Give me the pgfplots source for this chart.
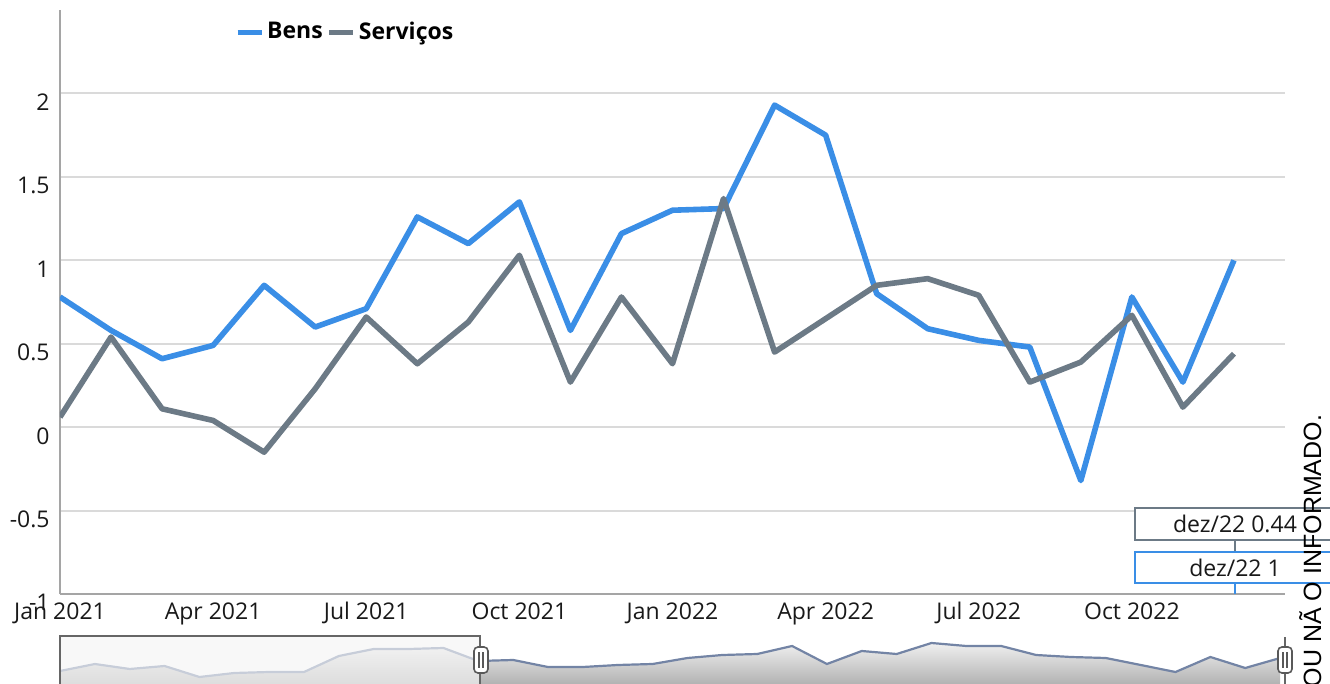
\documentclass[border=0pt]{standalone}
\usepackage{pgfplots}
\pgfplotsset{compat=1.18}
\usepackage{fontspec}
\setmainfont{Open Sans}
\newfontfamily\arialfont{Liberation Sans}
\definecolor{bens}{RGB}{58,142,230}
\definecolor{serv}{RGB}{108,122,134}
\definecolor{gridc}{RGB}{218,218,218}
\definecolor{axisc}{RGB}{165,165,165}
\definecolor{navline}{RGB}{115,132,165}
\newcommand{\lbl}{\fontsize{11.5}{13}\selectfont}

\begin{document}
\begin{tikzpicture}
\path[use as bounding box] (0,0) rectangle (665pt,-342pt);

% main chart
\begin{axis}[
  at={(30pt,-297pt)}, anchor=south west, scale only axis,
  width=612.5pt, height=292pt,
  xmin=0, xmax=24, ymin=-1, ymax=2.5,
  axis x line*=bottom, axis y line*=left,
  axis line style={-, draw=axisc, line width=1pt},
  xtick={0,3,6,9,12,15,18,21},
  xticklabels={Jan 2021,Apr 2021,Jul 2021,Oct 2021,Jan 2022,Apr 2022,Jul 2022,Oct 2022},
  ytick={-1,-0.5,0,0.5,1,1.5,2},
  yticklabels={\raisebox{3pt}{-1},-0.5,0,0.5,1,1.5,2},
  major tick length=0pt, tick style={draw=none},
  ymajorgrids, grid style={gridc, line width=1pt},
  xticklabel style={anchor=north, inner sep=0pt, yshift=-4pt, font=\lbl, text=black!90},
  yticklabel style={anchor=north east, inner sep=0pt, xshift=-5pt, font=\lbl, text=black!90},
  legend style={at={(0.1425,0.962)}, anchor=west, draw=none, fill=none,
    inner sep=0pt, font=\lbl\bfseries, legend columns=-1,
    nodes={inner sep=1.5pt},
    /tikz/every even column/.append style={column sep=0.5pt}},
  legend cell align=left,
  legend image code/.code={\draw[#1, line width=2.6pt] (0pt,0pt) -- (12pt,0pt);},
]
\addplot[bens, line width=2.8pt, line join=round] coordinates {
 (0,0.78) (1,0.58) (2,0.41) (3,0.49) (4,0.85) (5,0.60) (6,0.71) (7,1.26)
 (8,1.10) (9,1.35) (10,0.58) (11,1.16) (12,1.30) (13,1.31) (14,1.93) (15,1.75)
 (16,0.80) (17,0.59) (18,0.52) (19,0.48) (20,-0.32) (21,0.78) (22,0.27) (23,1.00)};
\addlegendentry{Bens}
\addplot[serv, line width=2.8pt, line join=round] coordinates {
 (0,0.06) (1,0.54) (2,0.11) (3,0.04) (4,-0.15) (5,0.23) (6,0.66) (7,0.38)
 (8,0.63) (9,1.03) (10,0.27) (11,0.78) (12,0.38) (13,1.37) (14,0.45) (15,0.65)
 (16,0.85) (17,0.89) (18,0.79) (19,0.27) (20,0.39) (21,0.67) (22,0.12) (23,0.44)};
\addlegendentry{Serviços}
\end{axis}

% navigator
\begin{axis}[
  at={(30pt,-342pt)}, anchor=south west, scale only axis,
  width=612.5pt, height=24pt,
  xmin=0, xmax=35.14, ymin=0, ymax=48,
  axis lines=none, ticks=none, clip=false,
]
\addplot[draw=none, top color=black!6, bottom color=black!30] coordinates {
 (0,13) (1,20) (2,15) (3,18) (4,7) (5,11) (6,12) (7,12) (8,28) (9,35) (10,35) (11,36)
 (12,23) (13,24) (14,17) (15,17) (16,19) (17,20) (18,26) (19,29) (20,30) (21,38)
 (22,20) (23,33) (24,30) (25,41) (26,38) (27,38) (28,29) (29,27) (30,26) (31,19)
 (32,12) (33,27) (34,16) (35,26)} \closedcycle;
\addplot[navline, line width=1.1pt] coordinates {
 (0,13) (1,20) (2,15) (3,18) (4,7) (5,11) (6,12) (7,12) (8,28) (9,35) (10,35) (11,36)
 (12,23) (13,24) (14,17) (15,17) (16,19) (17,20) (18,26) (19,29) (20,30) (21,38)
 (22,20) (23,33) (24,30) (25,41) (26,38) (27,38) (28,29) (29,27) (30,26) (31,19)
 (32,12) (33,27) (34,16) (35,26)};
\fill[black!4, opacity=0.65] (axis cs:0,0) rectangle (axis cs:12.05,48);
\end{axis}

\begin{scope}[x=0.5pt, y=-0.5pt]
% navigator outline and handles
\draw[black!60, line width=1pt] (60,684) -- (60,636.5) -- (480,636.5) -- (480,684);
\draw[black!60, line width=1pt] (1285,637) -- (1285,684);
\foreach \hx in {481,1285} {
  \draw[black!65, line width=0.8pt, fill=white, rounded corners=2pt]
    (\hx-7,647) rectangle (\hx+7,673);
  \draw[black!65, line width=0.6pt] (\hx-2,652) -- (\hx-2,668) (\hx+2,652) -- (\hx+2,668);
}
% tooltips
\draw[serv, line width=1pt, fill=white] (1135,508) rectangle (1345,540);
\node[font=\lbl, text=black!90] at (1235,524) {dez/22 0.44};
\draw[serv, line width=1pt] (1235,540) -- (1235,552);
\draw[bens, line width=1pt, fill=white] (1135,552) rectangle (1345,583);
\node[font=\lbl, text=black!90] at (1235,567.5) {dez/22 1};
\draw[bens, line width=1pt] (1235,583) -- (1235,594);
% rotated note
\node[rotate=90, anchor=base, inner sep=0pt, font=\arialfont\fontsize{12.5}{14}\selectfont]
  at (1321,551) {OU NÃ O INFORMADO.};
\end{scope}
\end{tikzpicture}
\end{document}
